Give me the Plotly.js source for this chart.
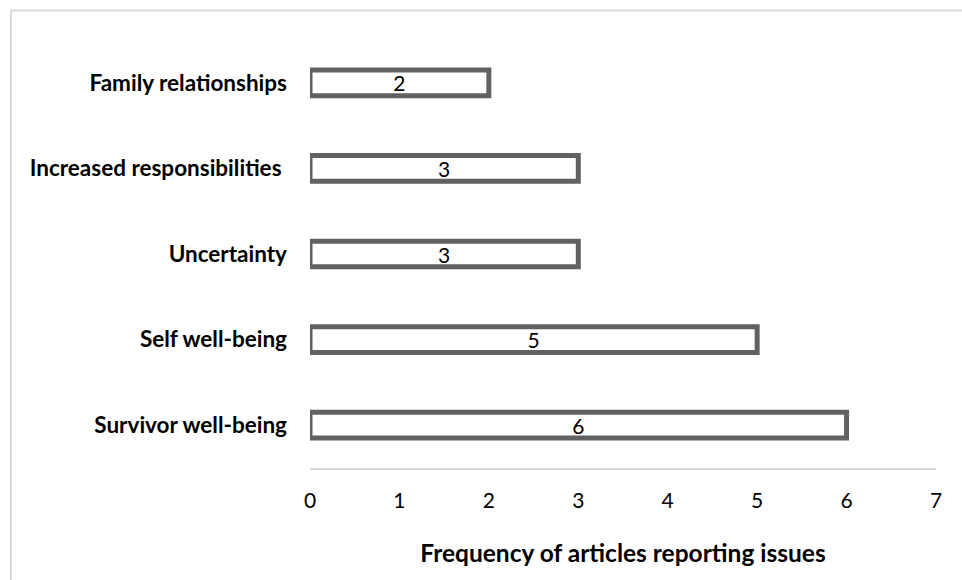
<!DOCTYPE html>
<html>
<head>
<meta charset="utf-8">
<script src="https://cdn.plot.ly/plotly-3.0.1.min.js"></script>
<style>
  html, body { margin: 0; padding: 0; background: #ffffff; }
  #chart { width: 962px; height: 580px; }
</style>
</head>
<body>
<div id="chart"></div>
<script>
const categories = ['Survivor well-being', 'Self well-being', 'Uncertainty', 'Increased responsibilities', 'Family relationships'];
const values = [6, 5, 3, 3, 2];
const xTicks = [0, 1, 2, 3, 4, 5, 6, 7];

const FONT = 'Lato, "Open Sans", "Liberation Sans", sans-serif';

const trace = {
  type: 'bar',
  orientation: 'h',
  y: categories,
  x: values,
  width: 0.30,
  marker: { color: '#ffffff', line: { color: '#616161', width: 5 } },
  text: values.map(String),
  textposition: 'inside',
  insidetextanchor: 'middle',
  textangle: 0,
  constraintext: 'none',
  textfont: { family: FONT, size: 21, color: '#000000' },
  hoverinfo: 'skip',
  cliponaxis: false
};

const L = 310, R = 26, T = 40, B = 112;
const W = 962, H = 580;
const pw = W - L - R, ph = H - T - B;
const px2paperX = (px) => (px - L) / pw;
const py2paperY = (py) => (H - B - py) / ph;

const layout = {
  width: W,
  height: H,
  margin: { l: L, r: R, t: T, b: B },
  paper_bgcolor: '#ffffff',
  plot_bgcolor: '#ffffff',
  showlegend: false,
  font: { family: FONT, color: '#000000' },
  xaxis: {
    range: [0, 7],
    tickvals: xTicks,
    ticktext: xTicks.map(String),
    showgrid: false,
    zeroline: false,
    showline: true,
    linecolor: '#d9d9d9',
    linewidth: 2,
    ticks: '',
    ticklabelstandoff: 13,
    tickfont: { family: FONT, size: 21, color: '#000000' },
    title: {
      text: 'Frequency of articles reporting issues',
      font: { family: FONT, size: 24.5, color: '#000000', weight: 'bold' },
      standoff: 34
    },
    fixedrange: true
  },
  yaxis: {
    type: 'category',
    tickvals: categories,
    ticktext: categories.map(c => c === 'Increased responsibilities' ? c + '\u00a0' : c),
    showgrid: false,
    zeroline: false,
    showline: false,
    ticks: '',
    ticklabelstandoff: 22,
    tickfont: { family: FONT, size: 22.5, color: '#000000', weight: 'bold' },
    fixedrange: true
  },
  shapes: [
    { type: 'line', xref: 'paper', yref: 'paper',
      x0: px2paperX(10), x1: px2paperX(975), y0: py2paperY(10.5), y1: py2paperY(10.5),
      line: { color: '#d9d9d9', width: 2 } },
    { type: 'line', xref: 'paper', yref: 'paper',
      x0: px2paperX(11), x1: px2paperX(11), y0: py2paperY(10.5), y1: py2paperY(600),
      line: { color: '#d9d9d9', width: 2 } }
  ]
};

Plotly.newPlot('chart', [trace], layout, { displayModeBar: false, staticPlot: true });
</script>
</body>
</html>
